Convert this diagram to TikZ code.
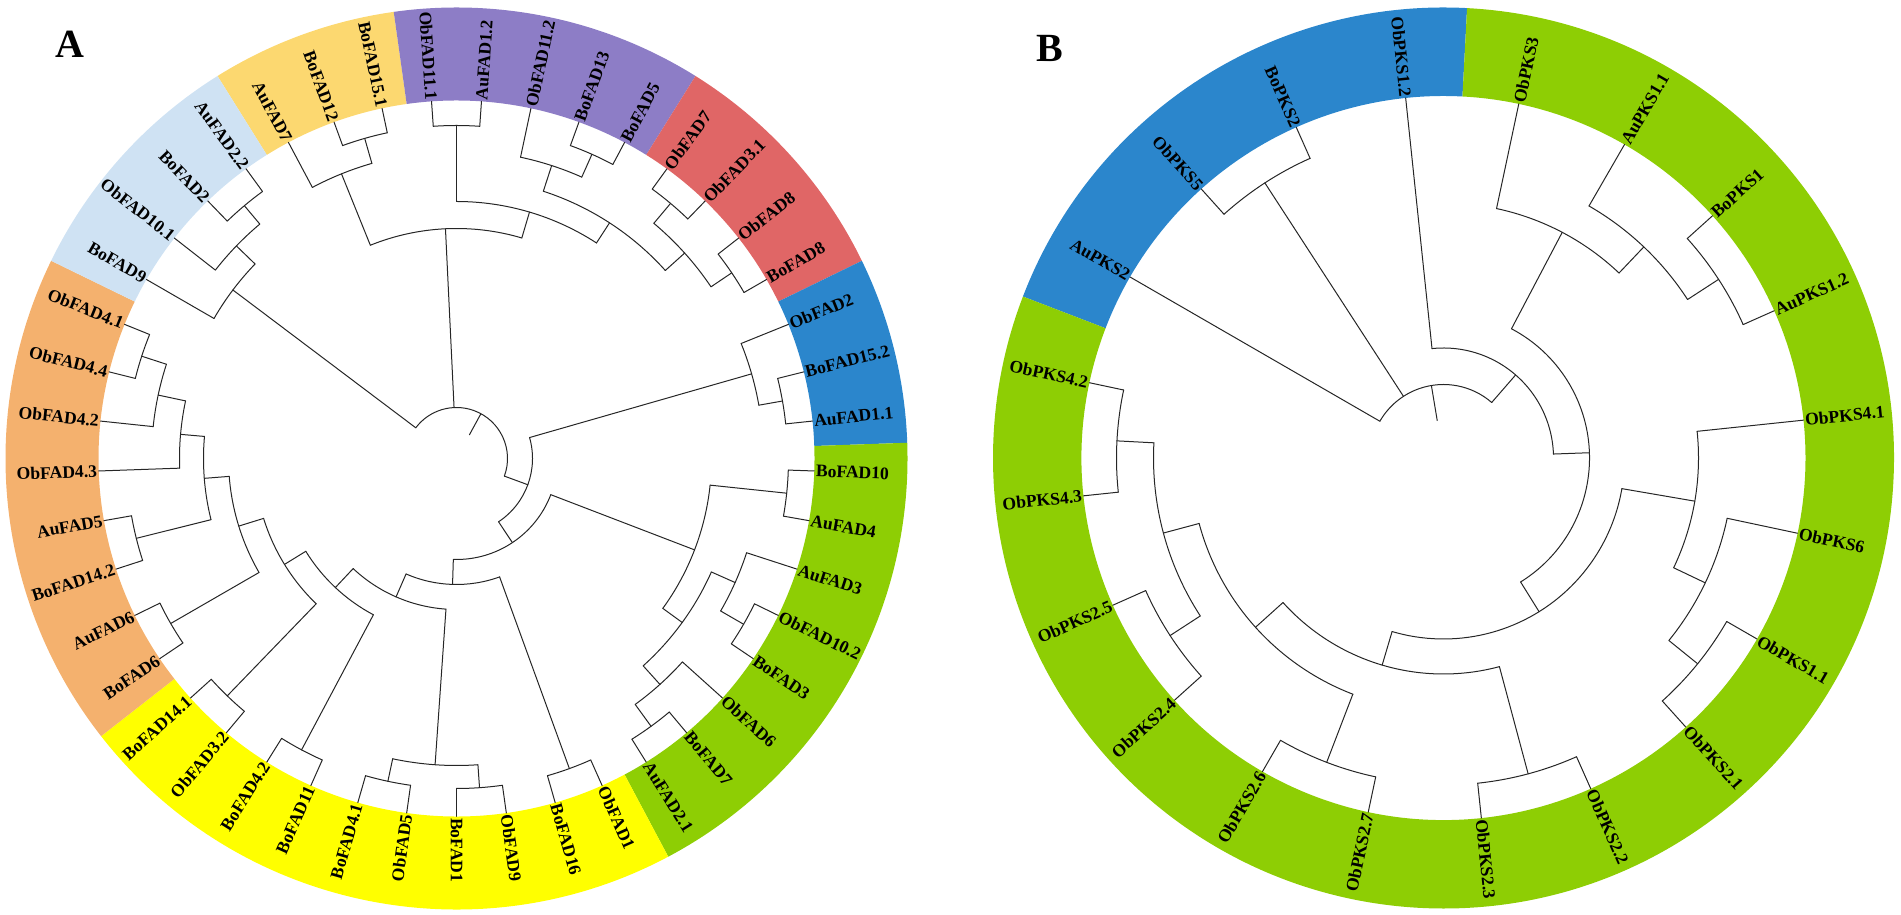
\documentclass[tikz,border=0pt]{standalone}
\usepackage{fontspec}
\setmainfont{Liberation Serif}
\definecolor{cGold}{RGB}{252,216,112}
\definecolor{cPurple}{RGB}{141,125,198}
\definecolor{cRed}{RGB}{224,102,102}
\definecolor{cBlue}{RGB}{43,134,204}
\definecolor{cGreen}{RGB}{142,206,4}
\definecolor{cYellow}{RGB}{255,255,0}
\definecolor{cOrange}{RGB}{244,177,110}
\definecolor{cLight}{RGB}{207,226,243}
\newcommand{\Sec}[3]{\fill[#1] (#2:\RI pt) arc[start angle=#2,end angle=#3,radius=\RI pt] -- (#3:\RO pt) arc[start angle=#3,end angle=#2,radius=\RO pt] -- cycle;}
\newcommand{\Arc}[3]{\draw[br] (#2:#1pt) arc[start angle=#2,end angle=#3,radius=#1pt];}
\newcommand{\Rad}[3]{\draw[br] (#1:#2pt) -- (#1:#3pt);}
\newcommand{\LR}[4]{\node[lab,anchor=west,rotate=#2] (#1) at (#2:\RL pt) {#3};\draw[br] (#2:#4pt) -- (#1.west);}
\newcommand{\LL}[4]{\node[lab,anchor=east,rotate=#2+180] (#1) at (#2:\RL pt) {#3};\draw[br] (#2:#4pt) -- (#1.east);}
\begin{document}
\begin{tikzpicture}[x=1pt,y=1pt,
  br/.style={line width=1pt,draw=black!85,line cap=round},
  lab/.style={font=\fontsize{17.6}{18}\selectfont\bfseries,inner sep=1.5pt,text=black},
  panel/.style={font=\fontsize{40}{40}\selectfont\bfseries,inner sep=0pt}]
\useasboundingbox (0,0) rectangle (1901,915);
\node[panel] (pA) at (70,871) {A};
\node[panel] (pB) at (1050,867) {B};
% ---------------- Tree A ----------------
\begin{scope}[shift={(456.5,456.5)}]
\def\RI{358}\def\RO{451}\def\RL{358}
\Sec{cGold}{98}{122}
\Sec{cPurple}{58}{98}
\Sec{cRed}{26}{58}
\Sec{cBlue}{2}{26}
\Sec{cGreen}{-62}{2}
\Sec{cYellow}{-142}{-62}
\Sec{cOrange}{154}{218}
\Sec{cLight}{122}{154}
% internal branches
\Arc{330}{126}{134} \Rad{130}{306}{330}
\Arc{306}{130}{142} \Rad{136}{280}{306}
\Arc{280}{136}{150} \Rad{143}{51}{280}
\Arc{333}{102}{110} \Rad{106}{307}{333}
\Arc{307}{106}{118} \Rad{112}{230}{307}
\Arc{333}{86}{94} \Rad{90}{257}{333}
\Arc{333}{62}{70} \Rad{66}{308}{333}
\Arc{308}{66}{78} \Rad{72}{281}{308}
\Arc{333}{46}{54} \Rad{50}{307}{333}
\Arc{332}{30}{38} \Rad{34}{307}{332}
\Arc{307}{34}{50} \Rad{42}{281}{307}
\Arc{281}{42}{72} \Rad{57}{257}{281}
\Arc{257}{57}{90} \Rad{73.5}{230}{257}
\Arc{230}{73.5}{112} \Rad{92.75}{51}{230}
\Arc{331}{6}{14} \Rad{10}{307}{331}
\Arc{307}{10}{22} \Rad{16}{76}{307}
\Arc{332}{-10}{-2} \Rad{-6}{255}{332}
\Arc{331.5}{-34}{-26} \Rad{-30}{305}{331.5}
\Arc{305}{-30}{-18} \Rad{-24}{279}{305}
\Arc{331}{-58}{-50} \Rad{-54}{304}{331}
\Arc{304}{-54}{-42} \Rad{-48}{279}{304}
\Arc{279}{-48}{-24} \Rad{-36}{255}{279}
\Arc{255}{-36}{-6} \Rad{-21}{101}{255}
\Arc{330}{-74}{-66} \Rad{-70}{126}{330}
\Arc{330}{-90}{-82} \Rad{-86}{307}{330}
\Arc{330}{-106}{-98} \Rad{-102}{307}{330}
\Arc{307}{-102}{-86} \Rad{-94}{151}{307}
\Arc{330}{-122}{-114} \Rad{-118}{177}{330}
\Arc{330}{-138}{-130} \Rad{-134}{202}{330}
\Arc{330}{206}{214} \Rad{210}{228}{330}
\Arc{330}{190}{198} \Rad{194}{253}{330}
\Arc{331}{158}{166} \Rad{162}{305}{331}
\Arc{305}{162}{174} \Rad{168}{277}{305}
\Arc{277}{168}{182} \Rad{175}{253}{277}
\Arc{253}{175}{194} \Rad{184.5}{228}{253}
\Arc{228}{184.5}{210} \Rad{197.25}{202}{228}
\Arc{202}{197.25}{226} \Rad{211.625}{177}{202}
\Arc{177}{211.625}{242} \Rad{226.8125}{151}{177}
\Arc{151}{226.8125}{266} \Rad{246.40625}{126}{151}
\Arc{126}{246.40625}{290} \Rad{268.203}{101}{126}
\Arc{101}{268.203}{339} \Rad{303.6}{76}{101}
\Arc{76}{303.6}{376} \Rad{339.8}{51}{76}
\Arc{51}{-20.2}{143} \Rad{61.4}{27}{51}
% leaves
\LR{a1}{-90}{BoFAD1}{330}
\LR{a2}{-82}{ObFAD9}{330}
\LR{a3}{-74}{BoFAD16}{330}
\LR{a4}{-66}{ObFAD1}{330}
\LR{a5}{-58}{AuFAD2.1}{331}
\LR{a6}{-50}{BoFAD7}{331}
\LR{a7}{-42}{ObFAD6}{304}
\LR{a8}{-34}{BoFAD3}{331.5}
\LR{a9}{-26}{ObFAD10.2}{331.5}
\LR{a10}{-18}{AuFAD3}{305}
\LR{a11}{-10}{AuFAD4}{332}
\LR{a12}{-2}{BoFAD10}{332}
\LR{a13}{6}{AuFAD1.1}{331}
\LR{a14}{14}{BoFAD15.2}{331}
\LR{a15}{22}{ObFAD2}{307}
\LR{a16}{30}{BoFAD8}{332}
\LR{a17}{38}{ObFAD8}{332}
\LR{a18}{46}{ObFAD3.1}{333}
\LR{a19}{54}{ObFAD7}{333}
\LR{a20}{62}{BoFAD5}{333}
\LR{a21}{70}{BoFAD13}{333}
\LR{a22}{78}{ObFAD11.2}{308}
\LR{a23}{86}{AuFAD1.2}{333}
\LL{a24}{94}{ObFAD11.1}{333}
\LL{a25}{102}{BoFAD15.1}{333}
\LL{a26}{110}{BoFAD12}{333}
\LL{a27}{118}{AuFAD7}{307}
\LL{a28}{126}{AuFAD2.2}{330}
\LL{a29}{134}{BoFAD2}{330}
\LL{a30}{142}{ObFAD10.1}{306}
\LL{a31}{150}{BoFAD9}{280}
\LL{a32}{158}{ObFAD4.1}{331}
\LL{a33}{166}{ObFAD4.4}{331}
\LL{a34}{174}{ObFAD4.2}{305}
\LL{a35}{182}{ObFAD4.3}{277}
\LL{a36}{190}{AuFAD5}{330}
\LL{a37}{198}{BoFAD14.2}{330}
\LL{a38}{206}{AuFAD6}{330}
\LL{a39}{214}{BoFAD6}{330}
\LL{a40}{222}{BoFAD14.1}{330}
\LL{a41}{230}{ObFAD3.2}{330}
\LL{a42}{238}{BoFAD4.2}{330}
\LL{a43}{246}{BoFAD11}{330}
\LL{a44}{254}{BoFAD4.1}{330}
\LL{a45}{262}{ObFAD5}{330}
\end{scope}
% ---------------- Tree B ----------------
\begin{scope}[shift={(1443.5,457)}]
\def\RI{362}\def\RO{450.5}\def\RL{362}
\Sec{cBlue}{87}{159}
\Sec{cGreen}{159}{447}
\Arc{328}{24}{42} \Rad{33}{291}{328}
\Arc{291}{33}{60} \Rad{46.5}{255}{291}
\Arc{255}{46.5}{78} \Rad{62.25}{146}{255}
\Arc{328}{114}{132} \Rad{123}{73.5}{328}
\Arc{327}{168}{186} \Rad{177}{290}{327}
\Arc{326}{204}{222} \Rad{213}{290}{326}
\Arc{290}{177}{213} \Rad{195}{253}{290}
\Arc{326}{240}{258} \Rad{249}{253}{326}
\Arc{253}{195}{249} \Rad{222}{216}{253}
\Arc{327}{276}{294} \Rad{285}{216}{327}
\Arc{216}{222}{285} \Rad{253.5}{181}{216}
\Arc{327}{312}{330} \Rad{321}{290}{327}
\Arc{290}{321}{348} \Rad{334.5}{255}{290}
\Arc{255}{334.5}{366} \Rad{350.25}{181}{255}
\Arc{181}{253.5}{350.25} \Rad{301.875}{146}{181}
\Arc{146}{301.875}{422.25} \Rad{2.0625}{110}{146}
\Arc{110}{2.0625}{96} \Rad{49.03}{73.5}{110}
\Arc{73.5}{49.03}{150} \Rad{99.5}{38}{73.5}
\LR{b1}{-84}{ObPKS2.3}{327}
\LR{b2}{-66}{ObPKS2.2}{327}
\LR{b3}{-48}{ObPKS2.1}{327}
\LR{b4}{-30}{ObPKS1.1}{327}
\LR{b5}{-12}{ObPKS6}{290}
\LR{b6}{6}{ObPKS4.1}{255}
\LR{b7}{24}{AuPKS1.2}{328}
\LR{b8}{42}{BoPKS1}{328}
\LR{b9}{60}{AuPKS1.1}{291}
\LR{b10}{78}{ObPKS3}{255}
\LL{b11}{96}{ObPKS1.2}{110}
\LL{b12}{114}{BoPKS2}{328}
\LL{b13}{132}{ObPKS5}{328}
\LL{b14}{150}{AuPKS2}{73.5}
\LL{b15}{168}{ObPKS4.2}{327}
\LL{b16}{186}{ObPKS4.3}{327}
\LL{b17}{204}{ObPKS2.5}{326}
\LL{b18}{222}{ObPKS2.4}{326}
\LL{b19}{240}{ObPKS2.6}{326}
\LL{b20}{258}{ObPKS2.7}{326}
\end{scope}
\end{tikzpicture}
\end{document}
